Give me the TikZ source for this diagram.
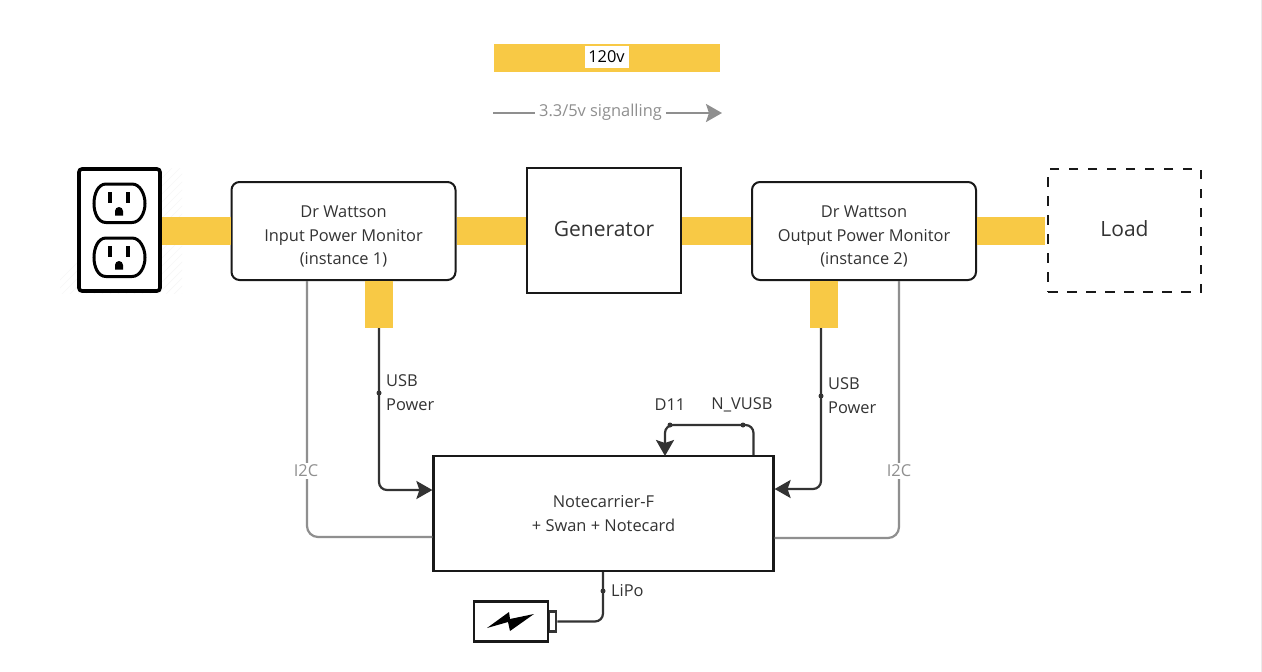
\documentclass[tikz,border=0pt]{standalone}
\usepackage{fontspec}
\setmainfont{Open Sans}
\usetikzlibrary{arrows.meta}
\definecolor{band}{HTML}{F8C945}
\definecolor{ink}{HTML}{333333}
\definecolor{sig}{HTML}{8F8F8F}
\newcommand{\bodyfont}{\fontsize{16.4}{23.5}\selectfont}
\newcommand{\bigfont}{\fontsize{21}{26}\selectfont}
\newcommand{\lift}{\rule{0pt}{23pt}}
\tikzset{
  x=1pt,y=-1pt,
  box/.style={draw=black!90,line width=2pt,fill=white,inner sep=0pt,align=center,text=ink,font=\bodyfont},
  bandline/.style={band,line width=28pt},
  power/.style={draw=ink,line width=2.2pt,rounded corners=8pt},
  signal/.style={draw=sig,line width=2.2pt,rounded corners=11pt},
  tip/.style={-{Stealth[length=16pt,width=18pt,inset=3pt]}},
  lbl/.style={text=ink,font=\bodyfont,inner sep=0pt,align=left},
  siglbl/.style={text=sig,font=\bodyfont,inner sep=1.5pt,fill=white},
  joint/.style={circle,fill=ink,inner sep=0pt,minimum size=5pt},
  plate/.style={draw=black,line width=3.6pt,rounded corners=3pt,fill=white},
  socket/.style={draw=black,line width=3pt,fill=white},
}
\begin{document}
\begin{tikzpicture}
\useasboundingbox (0,0) rectangle (1262,672);
\fill[white] (0,0) rectangle (1262,672);
\fill[black!8] (1260.5,0) rectangle (1262,672);
% faint hatching round the outlet
\begin{scope}
\clip (60,168) rectangle (182,293);
\foreach \d in {0,8,...,260}{\draw[black!3,line width=.7pt] (40+\d,300) -- (40+\d+140,160);}
\end{scope}
% outlet
\node[plate,minimum width=81pt,minimum height=122pt,inner sep=0pt] (outlet) at (119.5,230) {};
\foreach \dy in {0,54}{
  \begin{scope}[yshift=-\dy pt]
  \draw[socket] (106,184) -- (132,184) .. controls (140,184) and (145,194) .. (145,203.5)
     .. controls (145,213) and (140,222.5) .. (132,222.5) -- (106,222.5)
     .. controls (98,222.5) and (94,213) .. (94,203.5) .. controls (94,194) and (98,184) .. (106,184) -- cycle;
  \fill[black] (108,192) rectangle (112,203);
  \fill[black] (126,192) rectangle (130,203);
  \fill[black] (115,215.5) -- (115,211) arc[start angle=180,end angle=0,radius=4pt] -- (123,215.5) -- cycle;
  \end{scope}
}
% main boxes
\node[box,minimum width=224pt,minimum height=98pt,rounded corners=8pt] (mon1) at (343.5,231) {\lift Dr Wattson\\Input Power Monitor\\(instance 1)};
\node[box,minimum width=154pt,minimum height=125pt,font=\bigfont,text depth=4pt] (gen) at (604,230.5) {Generator};
\node[box,minimum width=224pt,minimum height=98pt,rounded corners=8pt] (mon2) at (864,231) {\lift Dr Wattson\\Output Power Monitor\\(instance 2)};
\node[box,line width=2.8pt,minimum width=153pt,minimum height=123pt,dash pattern=on 9.5pt off 9.5pt,font=\bigfont,text depth=4pt] (load) at (1124.5,230.5) {Load};
\node[box,line width=2.2pt,minimum width=340pt,minimum height=115pt] (nc) at (603.5,513.5) {Notecarrier-F\\+ Swan + Notecard};
% 120 v bands
\draw[bandline] (outlet.east |- 0,231) -- (mon1.west |- 0,231);
\draw[bandline] (mon1.east |- 0,231) -- (gen.west |- 0,231);
\draw[bandline] (gen.east |- 0,231) -- (mon2.west |- 0,231);
\draw[bandline] (mon2.east |- 0,231) -- ([xshift=-1.5pt]load.west |- 0,231);
\coordinate (usb1top) at (379,328);
\coordinate (usb2top) at (821,328);
\fill[band] (365,281) rectangle (393,328);
\fill[band] (810,281) rectangle (838,328);
% USB power
\draw[power,tip] (usb1top) |- (nc.west |- 0,490);
\node[joint] (j1) at (379,393) {};
\draw[power,tip] (usb2top) |- (nc.east |- 0,489);
\node[joint] (j2) at (821,396) {};
\node[lbl,anchor=west] (usb1) at (386,392.5) {USB\\Power};
\node[lbl,anchor=west] (usb2) at (828,395.5) {USB\\Power};
% I2C
\draw[signal] (307,281) |- (nc.west |- 0,537);
\draw[signal] (899,281) |- (nc.east |- 0,538);
\node[siglbl] (i2c1) at (306,471) {I2C};
\node[siglbl] (i2c2) at (899,471) {I2C};
% D11 loop
\coordinate (loopa) at (753.5,455);
\draw[power,tip] (loopa) |- (665,425) -- (665,456);
\node[joint] (j3) at (670,425) {};
\node[joint] (j4) at (743,425) {};
\node[lbl] (d11) at (670,405) {D11};
\node[lbl] (nv) at (742,405) {N\_VUSB};
% battery
\node[draw=ink,line width=2.3pt,minimum width=7.5pt,minimum height=20pt,inner sep=0pt] (tipb) at (552.5,621.5) {};
\node[draw=black!90,line width=2.3pt,fill=white,minimum width=74pt,minimum height=40pt,inner sep=0pt] (bat) at (511,621.5) {};
\fill[black] (487,628) -- (509,612) -- (510,619) -- (534,614) -- (510,631) -- (508,622) -- cycle;
\draw[power] (nc.south -| 603,0) |- (tipb.east);
\node[joint] (j5) at (603,591) {};
\node[lbl,anchor=west] (lipo) at (611,591) {LiPo};
% legend
\node[fill=band,minimum width=226pt,minimum height=28pt,inner sep=0pt] (leg) at (607,58) {};
\node[fill=white,minimum width=44pt,minimum height=22pt,inner sep=0pt,text=black,font=\bodyfont] (v120) at (606.5,57) {120v};
\coordinate (siga) at (493,113);
\coordinate (sigb) at (722,113);
\draw[draw=sig,line width=2.2pt,tip] (siga) -- (sigb);
\node[siglbl,inner xsep=4pt,inner ysep=3pt] (sigl) at (600.5,112.5) {3.3/5v signalling};
\end{tikzpicture}
\end{document}
